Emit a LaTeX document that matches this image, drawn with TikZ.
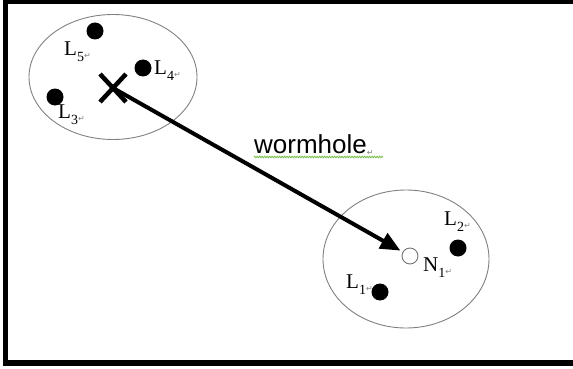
\documentclass[tikz,border=0pt]{standalone}
\usepackage{fontspec}
\setmainfont{Liberation Serif}
\newfontfamily\dejavu{DejaVu Sans}
\newfontfamily\arialfont{Liberation Sans}
\usetikzlibrary{arrows.meta,shapes.geometric,decorations.pathmorphing}
\newcommand\retmk{{\dejavu\fontsize{8}{8}\selectfont\color{gray}\raisebox{-0.3em}{↵}}}
\newcommand\lbl[2]{\fontsize{21}{21}\selectfont #1\raisebox{-0.28em}{\fontsize{14}{14}\selectfont #2}\retmk}
\begin{document}
\begin{tikzpicture}[x=1pt,y=-1pt,
  region/.style={draw=black!50, line width=0.9pt, ellipse, inner sep=0pt},
  dot/.style={circle, fill=black, inner sep=0pt, minimum size=17pt},
  hollow/.style={circle, draw=black!55, line width=0.9pt, fill=white, inner sep=0pt, minimum size=16pt},
  lab/.style={anchor=west, inner sep=0pt},
  frameline/.style={line width=5pt},
  thick4/.style={line width=4.5pt}]
\useasboundingbox (0,0) rectangle (573,369);
% frame
\coordinate (f1) at (573,2);
\coordinate (f2) at (5.5,2);
\coordinate (f3) at (5.5,363);
\coordinate (f4) at (573,363);
\draw[frameline, line width=4pt] (f1) -- (f2);
\draw[frameline] (5.5,0) -- (f3);
\draw[frameline, line width=6pt] (3,363) -- (f4);
% regions
\node[region, minimum width=168pt, minimum height=125pt] (E1) at (113,77) {};
\node[region, minimum width=166pt, minimum height=138pt] (E2) at (406,259) {};
% dots
\node[dot] (L5) at (95,31) {};
\node[dot] (L4) at (143,68) {};
\node[dot] (L3) at (55,97) {};
\node[dot] (L2) at (458,248) {};
\node[dot] (L1) at (380,292) {};
\node[hollow] (N1) at (410,256) {};
% labels
\node[lab] (t5) at (64,52) {\lbl{L}{5}};
\node[lab] (t4) at (154,71) {\lbl{L}{4}};
\node[lab] (t3) at (58,115) {\lbl{L}{3}};
\node[lab] (t2) at (444,222) {\lbl{L}{2}};
\node[lab] (tn) at (423,268) {\lbl{N}{1}};
\node[lab] (t1) at (346,285) {\lbl{L}{1}};
% X mark
\node[inner sep=0pt, minimum size=0pt] (X) at (113,88) {};
\coordinate (xa) at (100,74);
\coordinate (xb) at (126,102);
\coordinate (xc) at (126,74);
\coordinate (xd) at (100,102);
\draw[thick4] (xa) -- (xb);
\draw[thick4] (xc) -- (xd);
% arrow
\draw[line width=4pt, -{Triangle[length=20pt,width=17pt]}, shorten >=11pt] (X.center) -- (N1.center);
% wormhole label
\node[lab] (wh) at (254,145) {\arialfont\fontsize{26}{26}\selectfont wormhole\retmk};
\coordinate (s1) at (254,157);
\coordinate (s2) at (383,157);
\draw[color={rgb,255:red,120;green,190;blue,70}, line width=0.8pt, decorate, decoration={zigzag, segment length=2.5pt, amplitude=0.8pt}] (s1) -- (s2);
\end{tikzpicture}
\end{document}
